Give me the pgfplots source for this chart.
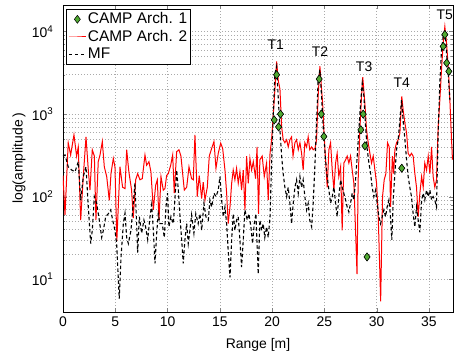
\documentclass[border=0pt]{standalone}
\usepackage{fontspec}
\setmainfont{Liberation Sans}
\usepackage{pgfplots}
\usepackage{pgfplotstable}
\pgfplotsset{compat=1.18}
\definecolor{campgreen}{RGB}{80,170,50}
\definecolor{gridgray}{RGB}{170,170,170}
\definecolor{campred}{RGB}{255,0,0}

\pgfplotstableread{
x y
0.0 180
0.19 60
0.5 450
0.73 320
1.05 560
1.3 310
1.46 400
1.69 52
1.94 175
2.2 530
2.42 210
2.58 120
2.8 370
3.0 310
3.15 52
3.37 265
3.54 320
3.76 465
3.95 230
4.18 175
4.43 90
4.59 190
4.81 290
4.97 230
5.15 29
5.45 230
5.7 130
5.93 125
6.09 370
6.3 200
6.56 120
6.72 55
6.95 160
7.14 190
7.36 160
7.58 165
7.84 320
8.0 240
8.22 265
8.41 200
8.64 69
8.86 137
9.02 160
9.18 52
9.37 175
9.59 120
9.75 125
9.91 180
10.07 190
10.3 240
10.49 320
10.64 110
10.87 350
11.09 370
11.28 310
11.41 210
11.6 120
11.83 130
12.05 230
12.3 165
12.46 160
12.62 560
12.84 100
13.03 180
13.26 95
13.41 150
13.58 91
13.8 130
13.99 310
14.22 385
14.44 465
14.63 220
14.85 335
15.08 445
15.27 385
15.49 210
15.65 110
15.8 47
15.97 75
16.13 145
16.28 210
16.44 160
16.6 220
16.76 145
16.92 200
17.08 120
17.24 210
17.4 69
17.56 310
17.72 145
17.88 290
18.04 210
18.2 265
18.42 165
18.56 400
18.7 62
18.83 280
19.05 310
19.25 175
19.47 255
19.63 91
19.8 335
19.95 490
20.1 935
20.27 2000
20.43 4350
20.58 2600
20.75 2000
20.91 700
21.06 490
21.22 450
21.39 490
21.54 400
21.7 490
21.86 530
22.0 310
22.18 450
22.34 490
22.5 370
22.66 450
22.82 335
22.97 210
23.13 450
23.3 400
23.45 530
23.6 370
23.78 400
23.93 370
24.1 385
24.25 490
24.4 1640
24.57 3800
24.73 2000
24.83 1360
24.95 645
25.11 280
25.27 130
25.43 370
25.59 450
25.75 210
25.91 120
26.07 255
26.22 335
26.38 175
26.55 230
26.7 39
26.86 255
27.03 280
27.18 310
27.34 255
27.5 310
27.66 210
27.82 145
27.98 39
28.12 11.5
28.23 160
28.39 645
28.55 1640
28.67 2800
28.87 1360
29.03 645
29.19 450
29.35 335
29.51 255
29.67 310
29.83 210
29.99 145
30.15 57
30.28 15.5
30.38 5.4
30.56 100
30.72 160
30.88 190
31.04 450
31.2 400
31.33 75
31.5 310
31.62 190
31.74 370
31.9 450
32.06 490
32.22 590
32.4 1640
32.53 1120
32.7 780
32.86 590
33.01 335
33.17 310
33.33 335
33.49 310
33.65 190
33.81 130
33.97 57
34.13 110
34.3 175
34.45 130
34.6 255
34.77 210
34.93 310
35.09 190
35.25 400
35.4 175
35.56 130
35.72 160
35.88 700
36.04 1480
36.2 3450
36.36 7300
36.52 11500
36.68 7300
36.84 3800
37.0 1480
37.16 490
37.25 280
}\redtable

\pgfplotstableread{
x y
0.0 310
0.19 320
0.5 230
0.83 210
1.15 200
1.46 265
1.69 91
1.94 175
2.2 230
2.42 75
2.65 27
2.8 39
3.0 100
3.22 83
3.47 52
3.7 32
3.86 39
4.08 57
4.33 62
4.56 69
4.75 52
4.97 39
5.13 27
5.38 5.8
5.55 18.5
5.77 47
5.93 63
6.09 32
6.25 27
6.5 39
6.72 83
6.88 145
7.04 48
7.14 21
7.3 57
7.52 36
7.74 52
7.9 43
8.1 30
8.32 57
8.48 80
8.64 39
8.8 15.5
8.96 36
9.11 62
9.27 47
9.49 47
9.69 32
9.85 75
10.0 110
10.13 43
10.32 57
10.55 47
10.7 91
10.87 210
11.03 120
11.19 57
11.35 30
11.5 15.5
11.66 30
11.83 47
11.98 27
12.14 39
12.3 60
12.52 36
12.7 62
12.93 47
13.1 62
13.26 39
13.48 83
13.67 57
13.9 52
14.05 91
14.22 75
14.44 110
14.63 100
14.85 120
15.01 175
15.17 91
15.33 57
15.49 75
15.65 47
15.8 22
15.97 10.5
16.13 30
16.28 62
16.44 39
16.6 52
16.76 57
16.92 30
17.08 14
17.24 30
17.4 69
17.62 52
17.78 62
17.97 43
18.13 27
18.29 47
18.45 62
18.67 11.5
18.83 52
19.0 39
19.15 47
19.3 32
19.47 43
19.63 32
19.8 57
19.95 255
20.1 935
20.27 3100
20.43 3800
20.58 1640
20.75 645
20.91 310
21.06 190
21.22 130
21.39 100
21.54 130
21.7 83
21.86 47
22.02 83
22.18 130
22.34 160
22.5 110
22.66 175
22.82 130
22.97 160
23.13 100
23.3 69
23.45 83
23.6 52
23.78 43
23.93 83
24.1 255
24.25 780
24.4 2600
24.57 3450
24.73 1640
24.9 645
25.11 280
25.27 175
25.43 120
25.59 83
25.75 100
25.91 130
26.07 83
26.22 57
26.38 100
26.55 160
26.7 130
26.86 110
27.03 91
27.18 75
27.34 65
27.5 83
27.66 110
27.82 91
27.98 160
28.14 310
28.3 645
28.46 1360
28.62 2370
28.78 1640
28.94 700
29.1 370
29.26 255
29.42 190
29.57 130
29.73 100
29.9 120
30.05 83
30.21 57
30.37 47
30.53 57
30.69 69
30.85 57
31.0 75
31.17 91
31.3 62
31.45 30
31.58 91
31.74 190
31.9 370
32.06 490
32.22 850
32.38 1480
32.53 850
32.7 490
32.86 280
33.01 175
33.17 130
33.33 100
33.49 62
33.65 43
33.81 75
33.97 52
34.13 37
34.3 91
34.45 110
34.6 91
34.77 120
34.93 100
35.09 120
35.25 91
35.4 100
35.56 91
35.72 75
35.88 590
36.04 2370
36.2 6000
36.36 8800
36.52 10500
36.68 5500
36.84 3150
37.0 1480
}\mftable

\pgfplotstableread{
x y
20.2 850
20.43 3000
20.62 700
20.8 1000
24.5 2660
24.7 1000
24.95 535
28.49 645
28.71 1000
28.87 412
29.08 18.6
32.4 221
36.36 6620
36.52 9200
36.7 4170
36.9 3300
}\camptable

\begin{document}
\fontsize{13.5}{16}\selectfont
\begin{tikzpicture}
\useasboundingbox (-63bp,-44bp) rectangle (391bp,312bp);
\begin{axis}[
  at={(0,0)}, anchor=south west,
  scale only axis, width=390bp, height=307bp,
  xmin=0, xmax=37.3,
  ymode=log, ymin=4, ymax=21000,
  xtick={0,5,10,15,20,25,30,35},
  ytick={10,100,1000,10000},
  yticklabels={10\textsuperscript{1},10\textsuperscript{2},10\textsuperscript{3},10\textsuperscript{4}},
  /pgf/number format/assume math mode=true,
  tick label style={font=\fontsize{14}{16}\selectfont},
  yticklabel style={xshift=-5bp},
  tick align=inside,
  major tick length=4bp, minor tick length=2.5bp,
  xmajorgrids, ymajorgrids, yminorgrids,
  grid style={draw=gridgray, line width=0.5bp, dash pattern=on 1bp off 2bp},
  minor grid style={draw=gridgray, line width=0.5bp, dash pattern=on 1bp off 2bp},
  axis line style={black, line width=0.8bp},
  xlabel={Range [m]},
  ylabel={log(amplitude\,)},
  xlabel style={at={(axis description cs:0.5,-0.1075)}, anchor=center, font=\fontsize{14}{16}\selectfont},
  ylabel style={at={(axis description cs:-0.113,0.5)}, anchor=center, rotate=0, font=\fontsize{14}{16}\selectfont},
  legend cell align=left,
  legend style={at={(axis description cs:0.008,0.987)}, anchor=north west,
    draw=black, fill=white,
    font=\fontsize{15.5}{17}\selectfont, inner sep=2bp, row sep=1.5bp,
    nodes={inner sep=1.5bp}},
]
\addplot[only marks, mark=diamond*, mark size=4bp, mark options={fill=campgreen, draw=black, line width=0.5bp}] table[x=x, y=y] {\camptable};
\addlegendentry{CAMP Arch. 1}
\addplot[color=campred, line width=1bp, mark=none] table[x=x, y=y] {\redtable};
\addlegendentry{CAMP Arch. 2}
\addplot[color=black, line width=1.1bp, dash pattern=on 3.5bp off 2.5bp, mark=none] table[x=x, y=y] {\mftable};
\addlegendentry{MF}
\addplot[forget plot, only marks, mark=diamond*, mark size=4bp, mark options={fill=campgreen, draw=black, line width=0.5bp}] table[x=x, y=y] {\camptable};

\node[font=\fontsize{14}{16}\selectfont] at (axis cs:20.35,6900) {T1};
\node[font=\fontsize{14}{16}\selectfont] at (axis cs:24.57,5700) {T2};
\node[font=\fontsize{14}{16}\selectfont] at (axis cs:28.8,3760) {T3};
\node[font=\fontsize{14}{16}\selectfont] at (axis cs:32.4,2400) {T4};
\node[font=\fontsize{14}{16}\selectfont] at (axis cs:36.5,16100) {T5};
\end{axis}
\end{tikzpicture}
\end{document}
